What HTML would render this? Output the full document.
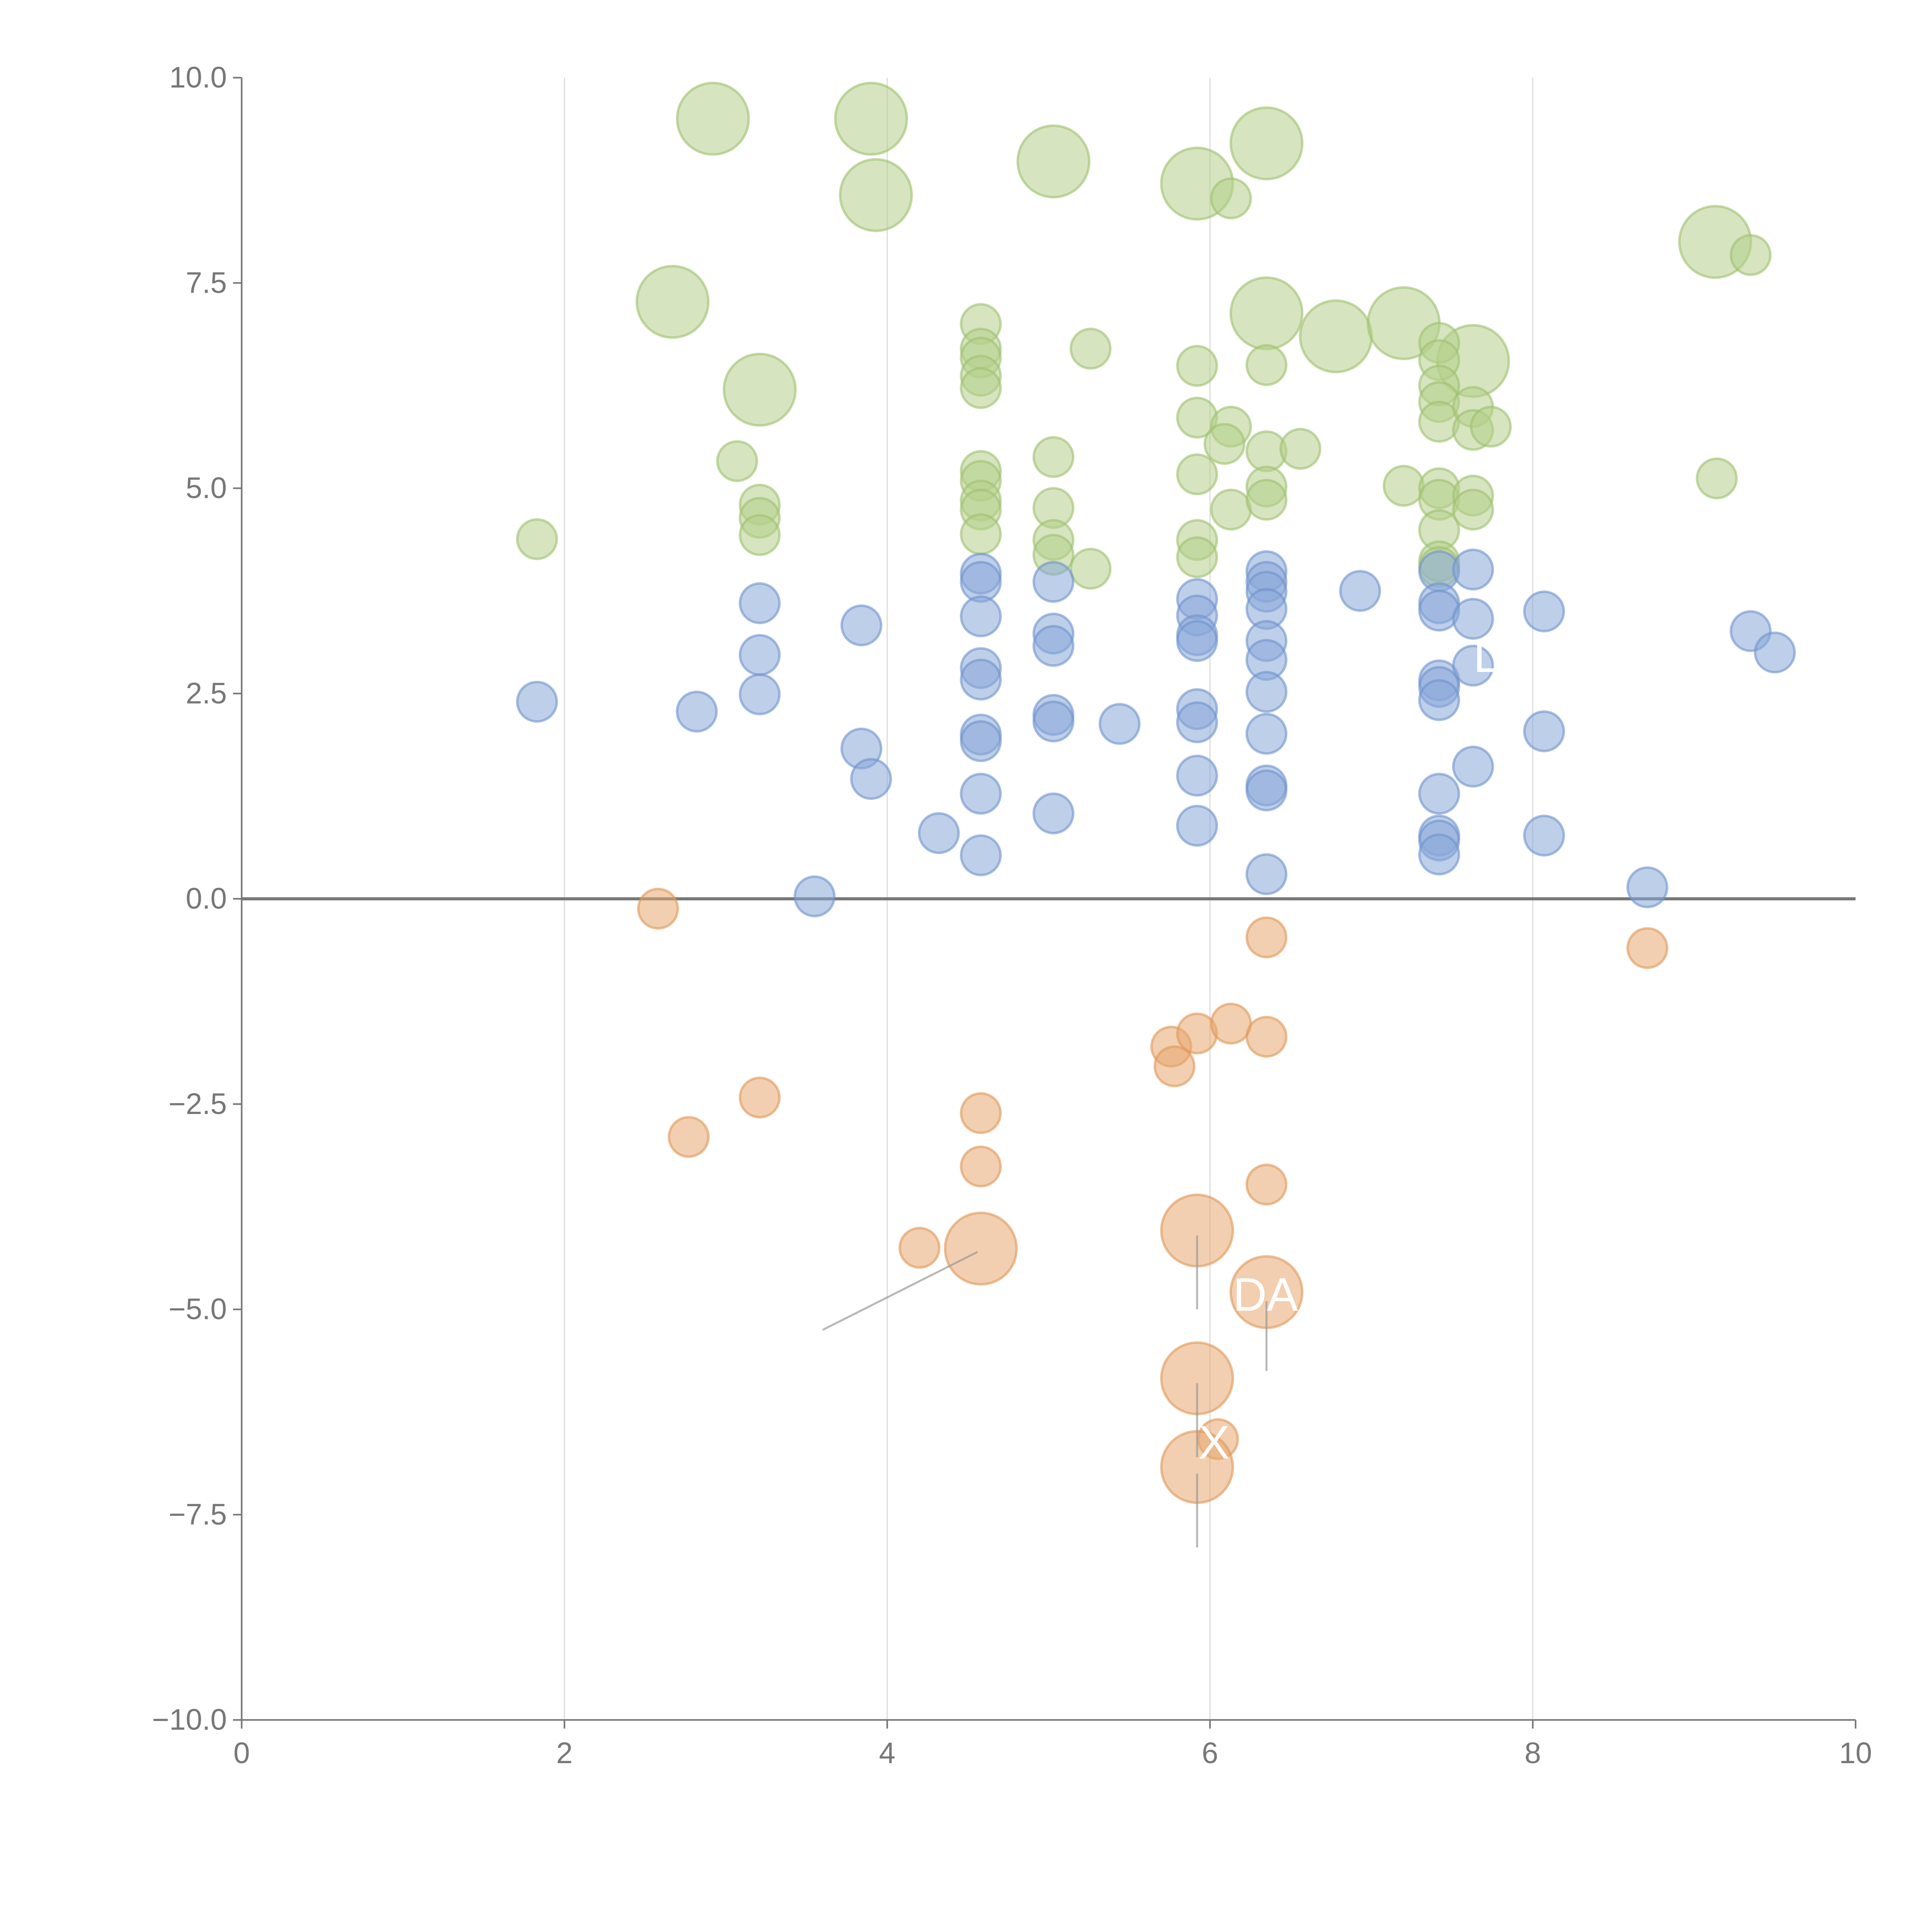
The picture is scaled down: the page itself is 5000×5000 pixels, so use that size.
<!DOCTYPE html>
<html><head><meta charset="utf-8">
<style>html,body{margin:0;padding:0;background:#fff;}svg{display:block;}</style>
</head><body>
<svg id="chart" width="5000" height="5000" viewBox="0 0 1567 1567" xmlns="http://www.w3.org/2000/svg" font-family="Liberation Sans, sans-serif">
<g id="grid"></g>
<g id="axes"></g>
<g id="points"></g>
<g id="ann"></g>
</svg>
<script>
const xTicks=[0,2,4,6,8,10];
const yTicks=[10,7.5,5,2.5,0,-2.5,-5,-7.5,-10];
const yTickLabels=["10.0","7.5","5.0","2.5","0.0","\u22122.5","\u22125.0","\u22127.5","\u221210.0"];
const greenX=[2.92,3.90,3.93,5.03,5.92,6.35,2.67,3.21,6.35,6.78,7.20,7.63,9.13,
1.83,3.07,3.21,3.21,3.21,4.58,4.58,4.58,4.58,4.58,4.58,4.58,4.58,4.58,4.58,5.03,5.03,5.03,5.03,5.26,5.26,5.92,5.92,5.92,5.92,5.92,6.13,6.13,6.09,6.13,6.35,6.35,6.35,6.35,6.56,7.20,7.42,7.42,7.42,7.42,7.42,7.42,7.42,7.42,7.42,7.42,7.63,7.63,7.63,7.63,7.74,9.14,9.35];
const greenY=[9.50,9.50,8.57,8.98,8.71,9.20,7.27,6.20,7.13,6.85,7.01,6.55,8.00,
4.38,5.33,4.80,4.64,4.43,7.00,6.70,6.59,6.37,6.22,5.21,5.09,4.85,4.74,4.44,5.38,4.76,4.37,4.19,6.70,4.02,6.49,5.86,5.17,4.37,4.16,8.53,5.75,5.54,4.74,6.50,5.45,5.02,4.86,5.48,5.03,6.77,6.56,6.25,6.05,5.81,5.00,4.86,4.49,4.11,4.04,5.99,5.71,4.91,4.74,5.75,5.12,7.84];
const greenBig=13;
const blueX=[1.83,2.82,3.21,3.21,3.21,3.55,3.84,3.84,3.90,4.32,4.58,4.58,4.58,4.58,4.58,4.58,4.58,4.58,4.58,5.03,5.03,5.03,5.03,5.03,5.03,5.44,5.92,5.92,5.92,5.92,5.92,5.92,5.92,5.92,6.35,6.35,6.35,6.35,6.35,6.35,6.35,6.35,6.35,6.35,6.35,6.93,7.42,7.42,7.42,7.42,7.42,7.42,7.42,7.42,7.42,7.42,7.63,7.63,7.63,7.63,8.07,8.07,8.07,8.71,9.35,9.50];
const blueY=[2.40,2.28,3.60,2.97,2.49,0.03,3.33,1.83,1.46,0.80,3.96,3.86,3.44,2.81,2.67,2.00,1.92,1.28,0.53,3.86,3.23,3.08,2.24,2.16,1.04,2.13,3.65,3.45,3.21,3.14,2.31,2.15,1.50,0.89,3.99,3.86,3.74,3.53,3.14,2.91,2.52,2.01,1.38,1.32,0.30,3.75,3.99,3.60,3.51,2.66,2.58,2.42,1.28,0.77,0.71,0.54,4.01,3.41,2.84,1.61,3.50,2.04,0.77,0.14,3.26,3.00];
const orangeX=[2.58,2.77,3.21,4.20,4.58,4.58,5.76,5.78,5.92,6.13,6.35,6.35,6.35,8.71,6.05,4.58,5.92,6.35,5.92,5.92];
const orangeY=[-0.12,-2.90,-2.42,-4.25,-2.61,-3.26,-1.80,-2.04,-1.64,-1.52,-0.47,-1.68,-3.48,-0.60,-6.58,-4.26,-4.04,-4.79,-5.84,-6.92];
const orangeBig=[15,16,17,18,19];

const NS="http://www.w3.org/2000/svg";
const X0=196,X1=1505,Y0=729,YS=66.6;
const sx=v=>X0+(X1-X0)*v/10;
const sy=v=>Y0-YS*v;
function mk(tag,attrs,parent,txt){const e=document.createElementNS(NS,tag);for(const k in attrs)e.setAttribute(k,attrs[k]);if(txt!==undefined)e.textContent=txt;document.getElementById(parent).appendChild(e);return e;}

[2,4,6,8].forEach(v=>{const l=mk('line',{x1:sx(v),x2:sx(v),y1:sy(10),y2:sy(-10),stroke:'#dedede','stroke-width':1},'grid');

});
let a=mk('line',{x1:X0,x2:X0,y1:sy(10),y2:sy(-10),stroke:'#777','stroke-width':1.3},'axes');


a=mk('line',{x1:X0,x2:X1,y1:sy(-10),y2:sy(-10),stroke:'#777','stroke-width':1.3},'axes');


a=mk('line',{x1:X0,x2:X1,y1:sy(0),y2:sy(0),stroke:'#777','stroke-width':2.5},'axes');


xTicks.forEach(v=>{mk('line',{x1:sx(v),x2:sx(v),y1:sy(-10),y2:sy(-10)+7,stroke:'#777','stroke-width':1.3},'axes');
const t=mk('text',{x:sx(v),y:sy(-10)+35,'text-anchor':'middle','font-size':24,fill:'#777'},'axes',String(v));

});
yTicks.forEach((v,i)=>{mk('line',{x1:X0-7,x2:X0,y1:sy(v),y2:sy(v),stroke:'#777','stroke-width':1.3},'axes');
const t=mk('text',{x:X0-12,y:sy(v)+8,'text-anchor':'end','font-size':24,fill:'#777'},'axes',yTickLabels[i]);

});

function dot(x,y,r,fill,stroke,name){const c=mk('circle',{cx:sx(x),cy:sy(y),r:r,fill:fill,'fill-opacity':0.55,stroke:stroke,'stroke-opacity':0.6,'stroke-width':2},'points');

}
greenX.forEach((x,i)=>dot(x,greenY[i],i<greenBig?29:16,'#b5d08a','#9fc070','green-bubble'));
blueX.forEach((x,i)=>dot(x,blueY[i],16,'#88a8d8','#6f93cc','blue-bubble'));
orangeX.forEach((x,i)=>dot(x,orangeY[i],orangeBig.includes(i)?29:16,'#e8a870','#e09858','orange-bubble'));

[[3.6,-5.25,4.56,-4.30],[5.92,-4.1,5.92,-5.0],[6.35,-4.9,6.35,-5.75],[5.92,-5.9,5.92,-6.8],[5.92,-7.0,5.92,-7.9]].forEach(s=>{
const l=mk('line',{x1:sx(s[0]),y1:sy(s[1]),x2:sx(s[2]),y2:sy(s[3]),stroke:'#999','stroke-opacity':0.7,'stroke-width':1.6},'ann');

});
[[1000,1063,'DA'],[972,1183,'X'],[1195,545,'L']].forEach(s=>{
const t=mk('text',{x:s[0],y:s[1],'font-size':38,fill:'#fff'},'ann',s[2]);

});
</script>
</body></html>
